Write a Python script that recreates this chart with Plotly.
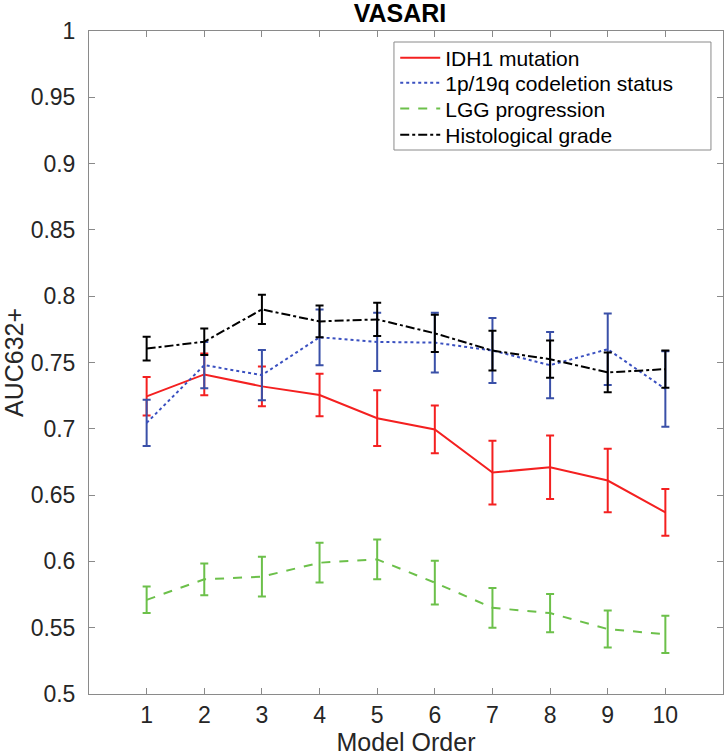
import plotly.graph_objects as go

model_order = [1, 2, 3, 4, 5, 6, 7, 8, 9, 10]

idh1 = [0.7245, 0.741, 0.732, 0.7255, 0.708, 0.6995, 0.667, 0.671, 0.661, 0.637]
idh1_err = [0.0145, 0.0157, 0.015, 0.016, 0.021, 0.018, 0.024, 0.024, 0.024, 0.0176]

codel = [0.7045, 0.748, 0.7405, 0.769, 0.7655, 0.765, 0.759, 0.748, 0.760, 0.730]
codel_err = [0.0175, 0.0175, 0.019, 0.021, 0.022, 0.0225, 0.0245, 0.025, 0.027, 0.0285]

lgg = [0.571, 0.5865, 0.5885, 0.599, 0.6015, 0.584, 0.565, 0.561, 0.549, 0.545]
lgg_err = [0.010, 0.012, 0.015, 0.015, 0.015, 0.0165, 0.015, 0.0145, 0.014, 0.014]

grade = [0.7605, 0.7657, 0.790, 0.781, 0.7825, 0.772, 0.759, 0.7525, 0.7425, 0.745]
grade_err = [0.009, 0.010, 0.011, 0.012, 0.0125, 0.014, 0.015, 0.014, 0.015, 0.014]

series = [
    ("IDH1 mutation", idh1, idh1_err, "#f42020", "#f42020", "solid"),
    ("1p/19q codeletion status", codel, codel_err, "#3a50c0", "#3a50a8", "dot"),
    ("LGG progression", lgg, lgg_err, "#6cc04a", "#6cc04a", "dash"),
    ("Histological grade", grade, grade_err, "#000000", "#000000", "dashdot"),
]

font = "Liberation Sans, Arial, Helvetica, sans-serif"

# one legend per entry so the rows can sit as tight as matlab puts them
legend_ids = ["legend", "legend2", "legend3", "legend4"]
legend_rows = [0.9593, 0.9216, 0.8824, 0.8431]

fig = go.Figure()
for (name, vals, errs, col, ecol, dash), lid in zip(series, legend_ids):
    fig.add_trace(go.Scatter(
        x=model_order, y=vals, name=name, mode="lines", legend=lid,
        line=dict(color=col, width=2, dash=dash),
        error_y=dict(type="data", array=errs, visible=True,
                     color=ecol, thickness=2, width=4),
    ))

axis_style = dict(
    showline=True, linecolor="#8a8a8a", linewidth=1, mirror="allticks",
    ticks="inside", ticklen=6, tickcolor="#8a8a8a",
    showgrid=False, zeroline=False,
    tickfont=dict(family=font, size=23, color="#262626"),
)

# legend frame (matlab style box, wider than the entries)
fig.add_shape(type="rect", xref="paper", yref="paper",
              x0=0.481, x1=0.981, y0=0.8205, y1=0.9834,
              line=dict(color="#8a8a8a", width=1), layer="above")

legends = {}
for lid, ypos in zip(legend_ids, legend_rows):
    legends[lid] = dict(x=0.483, y=ypos, xanchor="left", yanchor="middle",
                        bgcolor="rgba(0,0,0,0)", borderwidth=0,
                        font=dict(family=font, size=21, color="black"),
                        itemwidth=40)

fig.update_layout(
    width=724, height=756,
    margin=dict(l=89, r=1, t=31, b=62),
    paper_bgcolor="white", plot_bgcolor="white",
    title=dict(text="<b>VASARI</b>", x=0.4905, xref="paper", y=1 - 13 / 756,
               yref="container", xanchor="center", yanchor="middle",
               font=dict(family=font, size=25, color="black")),
    xaxis=dict(range=[0, 11], tickvals=model_order,
               title=dict(text="Model Order", standoff=2,
                          font=dict(family=font, size=25, color="#262626")),
               **axis_style),
    yaxis=dict(range=[0.5, 1],
               tickvals=[0.5, 0.55, 0.6, 0.65, 0.7, 0.75, 0.8, 0.85, 0.9, 0.95, 1],
               ticktext=["0.5", "0.55", "0.6", "0.65", "0.7", "0.75", "0.8",
                         "0.85", "0.9", "0.95", "1"],
               ticklabelstandoff=8,
               title=dict(text="AUC632+", standoff=4,
                          font=dict(family=font, size=25, color="#262626")),
               **axis_style),
    showlegend=True,
    **legends,
)

fig.write_html("out.html", config={"displayModeBar": False},
               post_script="document.body.style.margin='0px';")
